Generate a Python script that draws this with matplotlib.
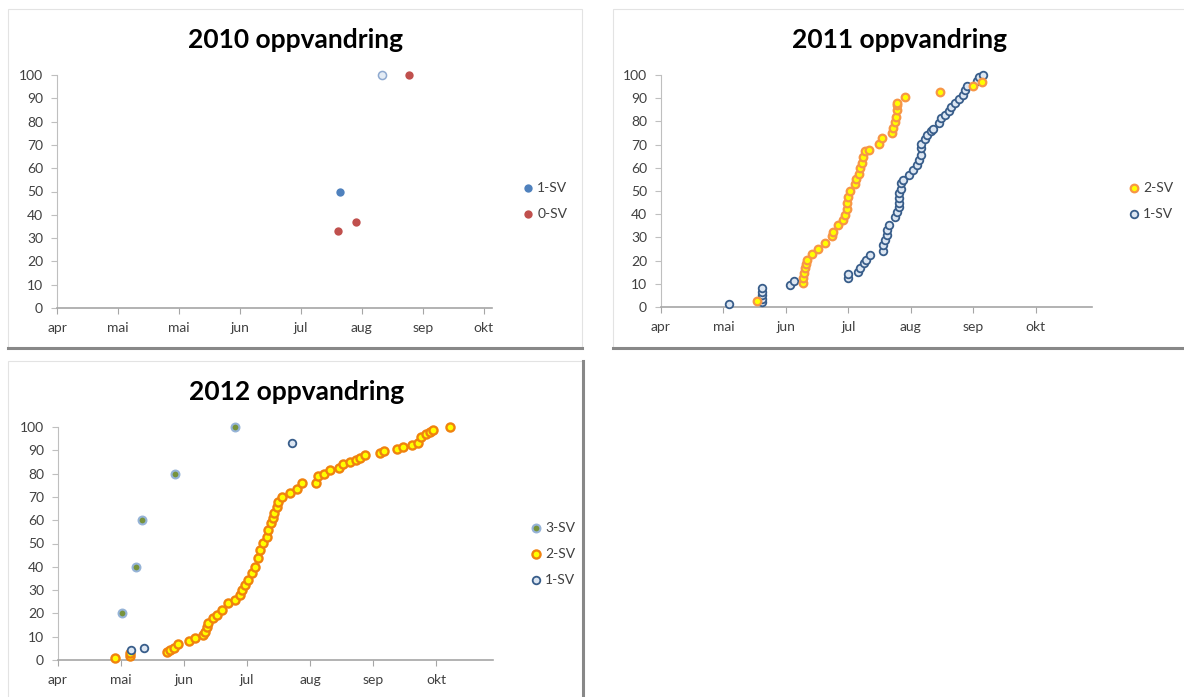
import matplotlib
matplotlib.use("Agg")
import matplotlib.pyplot as plt
from matplotlib.lines import Line2D
from matplotlib.patches import Rectangle

plt.rcParams['font.family'] = ['Lato', 'DejaVu Sans']

# x values are days after 1 April, y values are cumulative percent
x_labels_2010 = ["apr", "mai", "mai", "jun", "jul", "aug", "sep", "okt"]
x_labels_2011 = ["apr", "mai", "jun", "jul", "aug", "sep", "okt"]
x_labels_2012 = ["apr", "mai", "jun", "jul", "aug", "sep", "okt"]

# 2010
sv1_2010_day = [139]
sv1_2010_val = [50]
sv1b_2010_day = [160]
sv1b_2010_val = [100]
sv0_2010_day = [138, 147, 173]
sv0_2010_val = [33, 37, 100]

# 2011
sv2_2011_day = [47.5, 70.4, 70.7, 71, 71.5, 72, 72.3, 74.8, 77.8, 81.4,
                84.8, 85.3, 88, 90.2, 91.4, 92.2, 92.2, 93, 93.8, 96.3,
                96.7, 98.5, 98.8, 99.7, 100.4, 101.3, 103.4, 108.4, 109.6, 114.8,
                115.3, 116.2, 116.7, 117, 117, 117.3, 121, 138.5, 155.1, 159.2]
sv2_2011_val = [2.5, 10.3, 12.5, 14.6, 16.8, 18.6, 20.4, 22.8, 25.1, 27.8,
                30.4, 32.5, 35.4, 37.6, 39.7, 42.3, 45, 47.6, 50.2, 53,
                55.1, 57.4, 59.8, 62.2, 64.8, 67.4, 67.7, 70.3, 72.8, 74.9,
                77.1, 79.9, 82, 84.9, 87.1, 88.1, 90.4, 92.7, 95.3, 97.1]
sv1_2011_day = [34, 50, 50, 50, 50, 50, 64, 66, 93, 93,
                98, 99, 101, 102, 104, 110, 110, 111, 112, 112,
                113, 116, 117, 118, 118, 118, 118, 119, 119, 120,
                123, 125, 127, 128, 129, 129, 129, 131, 132, 134,
                135, 138, 139, 141, 143, 144, 146, 148, 150, 151,
                152, 157, 158, 160]
sv1_2011_val = [1.5, 2, 3.5, 5, 6.5, 8, 9.3, 11, 12.3, 14.2,
                15.2, 16.6, 19, 20.4, 22.2, 24.2, 26.8, 29, 31, 33,
                35.4, 39, 41, 43, 45, 47, 49, 51, 53.5, 54.8,
                57, 59.1, 61.3, 63.4, 65.6, 68.4, 70.3, 72.3, 74.2, 76,
                76.6, 79.2, 81.4, 82.8, 84.6, 86.4, 88.1, 89.5, 91.4, 93.5,
                95.3, 97.5, 99, 100]

# 2012
sv3_2012_day = [31.6, 38.2, 41.3, 57.4, 87.2]
sv3_2012_val = [20, 40, 60, 80, 100]
sv2_2012_day = [28, 35.4, 35.4, 53.5, 55.1, 57.1, 59.2, 64.6, 67.4, 71.2,
                72.3, 73.4, 74, 76.4, 78.1, 80.5, 83.8, 87.1, 89.5, 90.4,
                92, 93.6, 95.3, 96.9, 98.5, 99.4, 100.7, 102.7, 103.4, 104.6,
                105.6, 106.2, 107.6, 108.4, 110, 114.1, 117.4, 119.9, 126.9, 128,
                130.8, 133.8, 138.4, 140.3, 143.6, 146.5, 148.4, 150.9, 158.6, 160.5,
                166.6, 169.6, 174, 177.2, 178.6, 181.1, 183, 184.3, 192.8]
sv2_2012_val = [0.7, 1.7, 2.8, 3.3, 4.3, 5, 6.7, 8.3, 9.6, 10.7,
                12.2, 14.3, 16, 17.9, 19.3, 21.5, 24.3, 25.8, 27.9, 30,
                32.2, 34.3, 37.2, 40, 43.6, 47.2, 50.1, 52.9, 55.8, 58.7,
                60.8, 63, 65.8, 68, 70.1, 71.5, 73.2, 75.8, 76.1, 79,
                79.8, 81.5, 82.5, 84.1, 85.1, 85.8, 86.8, 88, 89, 89.8,
                90.4, 91.3, 92.3, 93.3, 95.6, 96.9, 98, 98.6, 100]
sv1_2012_day = [35.9, 42.4, 115.1]
sv1_2012_val = [4.3, 5.3, 93]

W, H = 1184, 697
fig = plt.figure(figsize=(W / 100, H / 100), dpi=100)


def box(l, t, r, b):
    return [l / W, 1 - b / H, (r - l) / W, (b - t) / H]


def frame(l, t, r, b, shadow):
    fig.add_artist(Rectangle((l / W, 1 - b / H), (r - l) / W, (b - t) / H,
                             transform=fig.transFigure, fill=False,
                             edgecolor='#E3E3E3', lw=0.8))
    if shadow == "bottom":
        fig.add_artist(Line2D([l / W, r / W], [1 - b / H] * 2, color='#888888',
                              lw=2.2, transform=fig.transFigure))
    else:
        fig.add_artist(Line2D([r / W] * 2, [1 - b / H, 1 - t / H], color='#888888',
                              lw=2.2, transform=fig.transFigure))


def style(ax, step, labels):
    ax.set_xlim(0, 214)
    ax.set_ylim(0, 100)
    ax.set_xticks([i * step for i in range(len(labels))])
    ax.set_xticklabels(labels)
    ax.set_yticks(range(0, 101, 10))
    ax.spines['top'].set_visible(False)
    ax.spines['right'].set_visible(False)
    ax.spines['bottom'].set_color('#A6A6A6')
    ax.spines['bottom'].set_linewidth(1.2)
    ax.spines['left'].set_color('#BFBFBF')
    ax.spines['left'].set_linewidth(0.8)
    ax.tick_params(axis='x', direction='out', length=4, color='#A6A6A6',
                   pad=6, labelsize=10, labelcolor='#404040')
    ax.tick_params(axis='y', direction='out', length=4, color='#BFBFBF',
                   pad=6, labelsize=10, labelcolor='#404040')
    ax.patch.set_alpha(0)


def legend(ax, handles, labels, x, y):
    ax.legend(handles, labels, loc='center left', bbox_to_anchor=(x / W, 1 - y / H),
              bbox_transform=fig.transFigure, frameon=False, fontsize=10,
              labelspacing=1.0, handletextpad=0.3, handlelength=0.8,
              borderpad=0, borderaxespad=0, scatterpoints=1,
              labelcolor='#404040')


# panel frames
frame(8, 9, 582, 348, "bottom")
frame(613, 9, W + 5, 348, "bottom")
frame(8, 361, 583, H + 5, "right")

# titles
title_kw = dict(ha='center', va='center', fontsize=19, fontweight='bold', color='black')
fig.text(295 / W, 1 - 40 / H, "2010 oppvandring", **title_kw)
fig.text(900 / W, 1 - 40 / H, "2011 oppvandring", **title_kw)
fig.text(297 / W, 1 - 392 / H, "2012 oppvandring", **title_kw)

# 2010
ax1 = fig.add_axes(box(57, 75, 492, 308))
style(ax1, 30, x_labels_2010)
h1 = ax1.scatter(sv1_2010_day, sv1_2010_val, s=36, color='#4F81BD', lw=0, clip_on=False, zorder=3)
ax1.scatter(sv1b_2010_day, sv1b_2010_val, s=34, facecolor='#E4ECF5', edgecolor='#8EA9CF',
            lw=1.1, clip_on=False, zorder=3)
h0 = ax1.scatter(sv0_2010_day, sv0_2010_val, s=36, color='#C0504D', lw=0, clip_on=False, zorder=3)
legend(ax1, [h1, h0], ["1-SV", "0-SV"], 522, 201)

# 2011
ax2 = fig.add_axes(box(661, 75, 1092, 307))
style(ax2, 31, x_labels_2011)
b2 = ax2.scatter(sv1_2011_day, sv1_2011_val, s=30, facecolor='#DCE6F2', edgecolor='#385D8A',
                 lw=1.3, clip_on=False, zorder=3)
y2 = ax2.scatter(sv2_2011_day, sv2_2011_val, s=30, facecolor='#FFFF00', edgecolor='#F79646',
                 lw=1.6, clip_on=False, zorder=4)
legend(ax2, [y2, b2], ["2-SV", "1-SV"], 1128, 201)

# 2012
ax3 = fig.add_axes(box(58, 427, 493, 660))
style(ax3, 31, x_labels_2012)
y3 = ax3.scatter(sv2_2012_day, sv2_2012_val, s=34, facecolor='#FFFF00', edgecolor='#F0820F',
                 lw=1.7, clip_on=False, zorder=3)
g3 = ax3.scatter(sv3_2012_day, sv3_2012_val, s=32, facecolor='#77933C', edgecolor='#95B3D7',
                 lw=1.5, clip_on=False, zorder=4)
b3 = ax3.scatter(sv1_2012_day, sv1_2012_val, s=30, facecolor='#DCE6F2', edgecolor='#385D8A',
                 lw=1.3, clip_on=False, zorder=5)
legend(ax3, [g3, y3, b3], ["3-SV", "2-SV", "1-SV"], 530, 554)

fig.savefig("out.png", dpi=100)
